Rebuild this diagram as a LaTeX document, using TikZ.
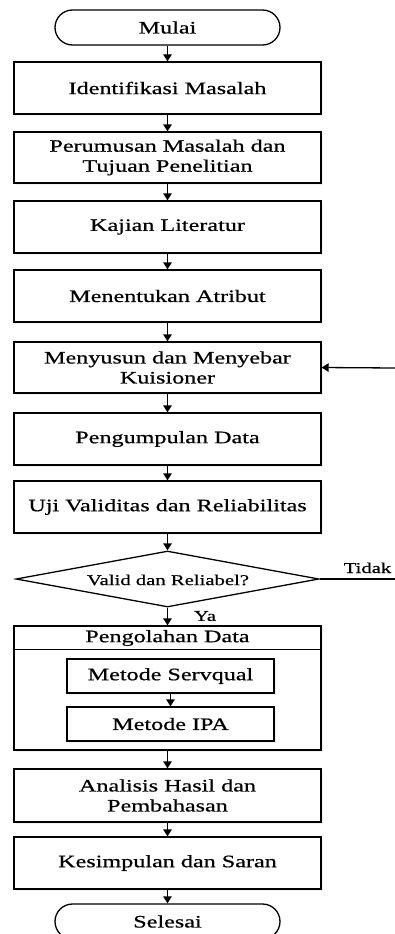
\documentclass[tikz,border=0pt]{standalone}
\usepackage{fontspec}
\setmainfont{Liberation Serif}[FakeStretch=1.38,FakeBold=0.6]
\usetikzlibrary{shapes.geometric,arrows.meta,shadows}
\begin{document}
\begin{tikzpicture}[x=1pt,y=-1pt,
  every node/.style={font=\fontsize{17.5}{20}\selectfont, inner sep=0pt, align=center},
  shd/.style={drop shadow={opacity=0.12, shadow xshift=1.5pt, shadow yshift=-1.5pt}},
  box/.style={draw, line width=1.3pt, fill=white, shd, minimum width=307pt, minimum height=52pt},
  inbox/.style={draw, line width=1.3pt, fill=white, shd, minimum width=207pt, minimum height=34pt},
  term/.style={draw, line width=1.3pt, fill=white, rounded corners=17.5pt, minimum width=225pt, minimum height=35pt},
  dec/.style={draw, line width=1.3pt, fill=white, diamond, aspect=5.4, minimum width=303pt, minimum height=56pt},
  small/.style={font=\fontsize{15}{17}\selectfont},
  arr/.style={line width=1.3pt, -{Triangle[length=7pt,width=8.5pt]}},
  ln/.style={line width=1.3pt}]
\useasboundingbox (0,0) rectangle (395,934);

\node[term] (mulai) at (167.5,27.5) {Mulai};
\node[box] (ident) at (167.5,88) {Identifikasi Masalah};
\node[box, minimum height=51pt] (perum) at (167.5,157.5) {Perumusan Masalah dan\\Tujuan Penelitian};
\node[box] (kajian) at (167.5,227) {Kajian Literatur};
\node[box] (atribut) at (167.5,296) {Menentukan Atribut};
\node[box, minimum height=51pt] (susun) at (167.5,367.5) {Menyusun dan Menyebar\\Kuisioner};
\node[box] (kumpul) at (167.5,439) {Pengumpulan Data};
\node[box] (uji) at (167.5,507) {Uji Validitas dan Reliabilitas};
\node[dec] (dia) at (167.5,579) {};
\node[small] (dtext) at (168,580) {Valid dan Reliabel?};
\node[box, minimum height=124pt] (olah) at (167.5,688) {};
\node (olaht) at (167.5,638) {Pengolahan Data};
\path (olah.north west) ++(0,24) coordinate (hl1);
\path (olah.north east) ++(0,24) coordinate (hl2);
\draw[ln] (hl1) -- (hl2);
\node[inbox] (serv) at (170.5,676) {Metode Servqual};
\node[inbox] (ipa) at (170.5,724) {Metode IPA};
\node[box, minimum height=53pt] (anal) at (167.5,795.5) {Analisis Hasil dan\\Pembahasan};
\node[box] (simp) at (167.5,863) {Kesimpulan dan Saran};
\node[term] (selesai) at (167.5,921.5) {Selesai};

\draw[arr] (mulai) -- (ident);
\draw[arr] (ident) -- (perum);
\draw[arr] (perum) -- (kajian);
\draw[arr] (kajian) -- (atribut);
\draw[arr] (atribut) -- (susun);
\draw[arr] (susun) -- (kumpul);
\draw[arr] (kumpul) -- (uji);
\draw[arr] (uji) -- (dia.north);
\draw[arr] (dia.south) -- (olah.north);
\node[small] (ya) at (205,616) {Ya};
\draw[arr] (serv) -- (ipa);
\draw[arr] (olah) -- (anal);
\draw[arr] (anal) -- (simp);
\draw[arr] (simp) -- (selesai);

\coordinate (r2) at (395,579);
\draw[ln] (dia.east) -- (r2);
\node[small, anchor=base] (tidak) at (367.5,573) {Tidak};
\coordinate (r1) at (395,368);
\draw[arr] (r1) -- (susun.east);
\end{tikzpicture}
\end{document}
